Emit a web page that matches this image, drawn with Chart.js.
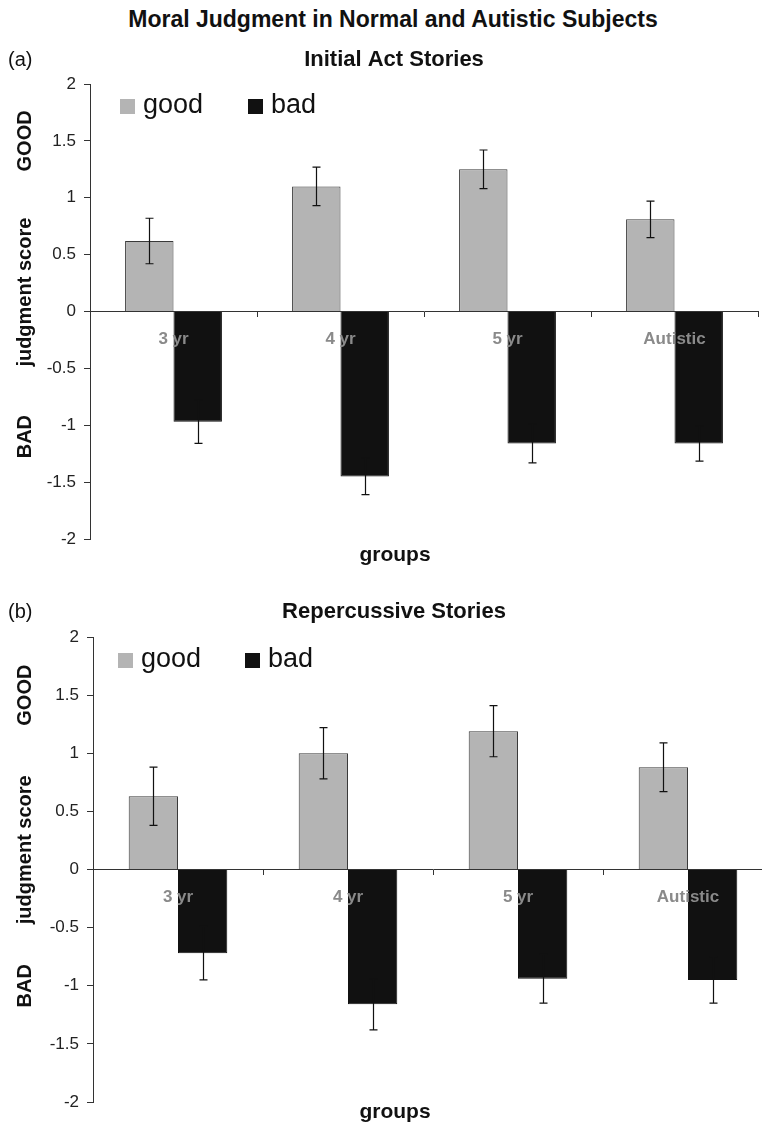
<!DOCTYPE html>
<html lang="en">
<head>
<meta charset="UTF-8">
<title>Moral Judgment in Normal and Autistic Subjects</title>
<script src="https://cdn.jsdelivr.net/npm/chart.js"></script>
<style>
    body {
        margin: 0;
        background: #fff;
        width: 762px;
        height: 1124px;
        overflow: hidden;
        position: relative;
        font-family: "Liberation Sans", Arial, sans-serif;
    }
    #mainTitle {
        position: absolute;
        top: 6px;
        left: 0;
        width: 786px;
        text-align: center;
        font-weight: bold;
        font-size: 23px;
        line-height: 26px;
        color: #111;
    }
    .panel { position: absolute; left: 0; }
    #panelA { top: 40px; }
    #panelB { top: 580px; }
</style>
</head>
<body>

<div id="mainTitle">Moral Judgment in Normal and Autistic Subjects</div>
<div class="panel" id="panelA"><canvas id="chartA" width="762" height="540"></canvas></div>
<div class="panel" id="panelB"><canvas id="chartB" width="780" height="544"></canvas></div>

<script>
// data
const groups = ['3 yr', '4 yr', '5 yr', 'Autistic'];
const seriesNames = ['good', 'bad'];

// (a) Initial Act Stories
const initialGood    = [0.62, 1.10, 1.25, 0.81];
const initialGoodErr = [0.20, 0.17, 0.17, 0.16];
const initialBad     = [-0.97, -1.45, -1.16, -1.16];
const initialBadErr  = [0.19, 0.16, 0.17, 0.155];

// (b) Repercussive Stories
const repGood    = [0.63, 1.00, 1.19, 0.88];
const repGoodErr = [0.25, 0.22, 0.22, 0.21];
const repBad     = [-0.72, -1.16, -0.94, -0.95];
const repBadErr  = [0.23, 0.22, 0.21, 0.20];

const yMin = -2, yMax = 2, yStep = 0.5;

const FONT = '"Liberation Sans", Arial, sans-serif';
const goodColor = '#b4b4b4';
const badColor = '#111111';

// error bars, legend and extra labels
const decor = {
    id: 'decor',
    afterDatasetsDraw(chart, args, opts) {
        const ctx = chart.ctx;
        const y = chart.scales.y;
        ctx.save();
        ctx.strokeStyle = '#111';
        ctx.lineWidth = 1.2;
        chart.data.datasets.forEach((ds, i) => {
            const meta = chart.getDatasetMeta(i);
            meta.data.forEach((bar, j) => {
                const v = ds.data[j], e = ds.errors[j];
                const y1 = y.getPixelForValue(v + e);
                const y2 = y.getPixelForValue(v - e);
                const x = Math.round(bar.x) + 0.5;
                ctx.beginPath();
                ctx.moveTo(x, y1); ctx.lineTo(x, y2);
                ctx.moveTo(x - 4, y1); ctx.lineTo(x + 4, y1);
                ctx.moveTo(x - 4, y2); ctx.lineTo(x + 4, y2);
                ctx.stroke();
            });
        });
        ctx.restore();
    },
    afterDraw(chart, args, opts) {
        const ctx = chart.ctx;
        const area = chart.chartArea;
        const y = chart.scales.y;
        ctx.save();
        ctx.fillStyle = '#111';
        ctx.textBaseline = 'middle';

        // panel tag and subtitle
        ctx.font = '20px ' + FONT;
        ctx.textAlign = 'left';
        ctx.fillText(opts.tag, 8, opts.headY);
        ctx.font = 'bold 22px ' + FONT;
        ctx.textAlign = 'center';
        ctx.fillText(opts.subtitle, 394, opts.headY);

        // x axis title
        ctx.font = 'bold 21px ' + FONT;
        ctx.fillText('groups', 395, area.bottom + opts.groupsGap);

        // y axis titles, rotated
        ctx.font = 'bold 20px ' + FONT;
        [['GOOD', 1.5], ['judgment score', 0.17], ['BAD', opts.badAt]].forEach(([txt, v]) => {
            ctx.save();
            ctx.translate(25, y.getPixelForValue(v));
            ctx.rotate(-Math.PI / 2);
            ctx.fillText(txt, 0, 0);
            ctx.restore();
        });

        // legend inside plot
        ctx.font = '27px ' + FONT;
        ctx.textAlign = 'left';
        const ly = area.top + opts.legendDy;
        chart.data.datasets.forEach((ds, i) => {
            const lx = opts.legendX[i];
            ctx.fillStyle = ds.backgroundColor;
            ctx.fillRect(lx, ly, 15, 15);
            ctx.fillStyle = '#111';
            ctx.fillText(ds.label, lx + 23, ly + 7);
        });
        ctx.restore();
    }
};

function makeChart(id, good, goodErr, bad, badErr, yAxisWidth, pad, deco) {
    return new Chart(document.getElementById(id), {
        type: 'bar',
        data: {
            labels: groups,
            datasets: [{
                label: seriesNames[0],
                data: good,
                errors: goodErr,
                backgroundColor: goodColor,
                borderColor: '#3a3a3a',
                borderWidth: 1,
                barPercentage: 1,
                categoryPercentage: 0.58
            }, {
                label: seriesNames[1],
                data: bad,
                errors: badErr,
                backgroundColor: badColor,
                borderColor: badColor,
                borderWidth: 1,
                barPercentage: 1,
                categoryPercentage: 0.58
            }]
        },
        options: {
            responsive: false,
            animation: false,
            devicePixelRatio: 1,
            layout: { padding: pad },
            plugins: {
                legend: { display: false },
                tooltip: { enabled: false },
                decor: deco
            },
            scales: {
                x: {
                    type: 'category',
                    position: { y: 0 },
                    offset: true,
                    afterFit: s => { s.height = 0; },
                    grid: { drawOnChartArea: false, offset: true, tickLength: 5, color: '#333' },
                    border: { color: '#333', width: 1, z: 1 },
                    ticks: {
                        z: 1,
                        maxRotation: 0,
                        autoSkip: false,
                        padding: 13,
                        color: '#8a8a8a',
                        font: { family: FONT, size: 17, weight: 'bold' }
                    }
                },
                y: {
                    min: yMin,
                    max: yMax,
                    afterFit: s => { s.width = yAxisWidth; },
                    grid: { drawOnChartArea: false, tickLength: 6, color: '#333' },
                    border: { color: '#333', width: 1 },
                    ticks: {
                        stepSize: yStep,
                        padding: 8,
                        color: '#222',
                        font: { family: FONT, size: 17 },
                        callback: v => String(v)
                    }
                }
            }
        },
        plugins: [decor]
    });
}

makeChart('chartA', initialGood, initialGoodErr, initialBad, initialBadErr, 90,
    { top: 44, bottom: 41, left: 0, right: 4 },
    { tag: '(a)', subtitle: 'Initial Act Stories', headY: 20, groupsGap: 16, legendDy: 15, legendX: [120, 248], badAt: -1.1 });

makeChart('chartB', repGood, repGoodErr, repBad, repBadErr, 93,
    { top: 57, bottom: 22, left: 0, right: 7 },
    { tag: '(b)', subtitle: 'Repercussive Stories', headY: 32, groupsGap: 10, legendDy: 16, legendX: [118, 245], badAt: -1.0 });
</script>
</body>
</html>
